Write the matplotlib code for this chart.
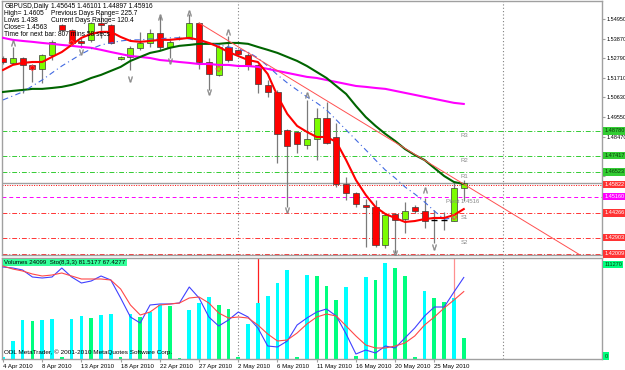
import matplotlib

matplotlib.use("Agg")
import matplotlib.pyplot as plt
import matplotlib.transforms as mtransforms
import numpy as np

# daily bars, 4 Apr 2010 .. 28 May 2010 (Sunday bars included)
OPEN = [1.5280, 1.5253, 1.5280, 1.5242, 1.5220, 1.5297, 1.5462, 1.5435, 1.5374, 1.5380,
        1.5473, 1.5462, 1.5275, 1.5286, 1.5336, 1.5363, 1.5418, 1.5341, 1.5391, 1.5396,
        1.5473, 1.5258, 1.5187, 1.5341, 1.5325, 1.5297, 1.5242, 1.5132, 1.5093, 1.4884,
        1.4873, 1.4801, 1.4834, 1.4950, 1.4845, 1.4586, 1.4537, 1.4470, 1.4459, 1.4250,
        1.4421, 1.4393, 1.4459, 1.4437, 1.4388, 1.4388, 1.4385, 1.45645]
HIGH = [1.5291, 1.5341, 1.5286, 1.5247, 1.5302, 1.5380, 1.5468, 1.5440, 1.5391, 1.5479,
        1.5528, 1.5468, 1.5291, 1.5347, 1.5424, 1.5440, 1.5512, 1.5380, 1.5402, 1.5523,
        1.5479, 1.5280, 1.5352, 1.5402, 1.5330, 1.5308, 1.5247, 1.5159, 1.5104, 1.4889,
        1.4878, 1.5049, 1.5005, 1.5038, 1.4922, 1.4625, 1.4542, 1.4504, 1.4498, 1.4426,
        1.4426, 1.4487, 1.4470, 1.4509, 1.4443, 1.4432, 1.4605, 1.46101]
LOW = [1.5247, 1.5247, 1.5088, 1.5148, 1.5143, 1.5269, 1.5429, 1.5352, 1.5336, 1.5369,
       1.5391, 1.5358, 1.5269, 1.5214, 1.5325, 1.5341, 1.5325, 1.5280, 1.5380, 1.5391,
       1.5220, 1.5104, 1.5181, 1.5258, 1.5297, 1.5214, 1.5088, 1.5066, 1.4702, 1.4459,
       1.4757, 1.4779, 1.4718, 1.4807, 1.4570, 1.4498, 1.4459, 1.4239, 1.4239, 1.4234,
       1.4206, 1.4316, 1.4426, 1.4344, 1.4261, 1.4333, 1.4380, 1.44897]
CLOSE = [1.5258, 1.5280, 1.5242, 1.5220, 1.5297, 1.5369, 1.5435, 1.5363, 1.5363, 1.5473,
         1.5462, 1.5363, 1.5286, 1.5336, 1.5363, 1.5418, 1.5341, 1.5369, 1.5391, 1.5473,
         1.5258, 1.5192, 1.5341, 1.5269, 1.5302, 1.5242, 1.5137, 1.5093, 1.4862, 1.4796,
         1.4807, 1.4834, 1.4950, 1.4812, 1.4586, 1.4537, 1.4476, 1.4459, 1.4250, 1.4415,
         1.4388, 1.4437, 1.4437, 1.4382, 1.4388, 1.4388, 1.4563, 1.45916]

MA_FAST = [1.5214, 1.5242, 1.5253, 1.5258, 1.5258, 1.5286, 1.5313, 1.5352, 1.5391, 1.5413,
           1.5424, 1.5424, 1.5396, 1.5374, 1.5369, 1.5374, 1.5380, 1.5380, 1.5385, 1.5391,
           1.5380, 1.5363, 1.5341, 1.5313, 1.5291, 1.5269, 1.5258, 1.5192, 1.5071, 1.4972,
           1.4906, 1.4873, 1.4845, 1.4845, 1.4818, 1.4718, 1.4608, 1.4526, 1.4459, 1.4421,
           1.4399, 1.4377, 1.4382, 1.4393, 1.4399, 1.4399, 1.4415, 1.4448]
MA_SLOW = [1.5093, 1.5099, 1.5104, 1.5110, 1.5110, 1.5115, 1.5121, 1.5132, 1.5148, 1.5170,
           1.5187, 1.5209, 1.5231, 1.5264, 1.5286, 1.5308, 1.5319, 1.5336, 1.5347, 1.5352,
           1.5358, 1.5358, 1.5358, 1.5363, 1.5363, 1.5358, 1.5341, 1.5325, 1.5308, 1.5286,
           1.5264, 1.5236, 1.5203, 1.5170, 1.5126, 1.5082, 1.5016, 1.4955, 1.4906, 1.4862,
           1.4823, 1.4779, 1.4746, 1.4718, 1.4674, 1.4630, 1.4597, 1.4586]
MA_LONG = [1.5391, 1.5380, 1.5374, 1.5369, 1.5363, 1.5358, 1.5352, 1.5347, 1.5341, 1.5336,
           1.5325, 1.5313, 1.5302, 1.5291, 1.5286, 1.5280, 1.5269, 1.5264, 1.5258, 1.5253,
           1.5247, 1.5247, 1.5242, 1.5242, 1.5236, 1.5236, 1.5231, 1.5220, 1.5209, 1.5198,
           1.5187, 1.5176, 1.5170, 1.5159, 1.5148, 1.5137, 1.5126, 1.5121, 1.5115, 1.5110,
           1.5099, 1.5088, 1.5077, 1.5066, 1.5055, 1.5044, 1.5033, 1.5027]
MA_SHIFTED = [1.5049, 1.5071, 1.5093, 1.5126, 1.5159, 1.5198, 1.5236, 1.5269, 1.5302, 1.5330,
              1.5352, 1.5363, 1.5374, 1.5380, 1.5380, 1.5385, 1.5385, 1.5391, 1.5391, 1.5385,
              1.5374, 1.5363, 1.5352, 1.5341, 1.5330, 1.5313, 1.5280, 1.5236, 1.5187, 1.5143,
              1.5104, 1.5066, 1.5033, 1.4994, 1.4939, 1.4884, 1.4829, 1.4774, 1.4718, 1.4663,
              1.4619, 1.4570, 1.4531, 1.4487, 1.4437, 1.4393, 1.4399]

TREND_BARS = [20, 61]
TREND_PRICES = [1.5473, 1.4125]

FRACTAL_UP_BARS = [1, 16, 19, 23, 31, 43]
FRACTAL_UP_PRICES = [1.5363, 1.5506, 1.5528, 1.5424, 1.5077, 1.4553]
FRACTAL_DOWN_BARS = [8, 13, 17, 21, 29, 40, 44]
FRACTAL_DOWN_PRICES = [1.5313, 1.5165, 1.5264, 1.5093, 1.4443, 1.4206, 1.4238]
SIGNAL_BARS = [3, 7, 22, 46]
SIGNAL_PRICES = [1.5225, 1.5363, 1.5220, 1.4404]

PIVOT_NAMES = ["R3", "R2", "R1", "Pivot 1.4516", "S1", "S2"]
PIVOT_PRICES = [1.48780, 1.47417, 1.46523, 1.45160, 1.44266, 1.42903]
S3_PRICE = 1.42009
BID_PRICE = 1.45916
MARK_PRICE = 1.45822

PRICE_TICKS = [1.54950, 1.53870, 1.52790, 1.51710, 1.50630, 1.49550,
               1.48470, 1.47390, 1.46310, 1.45230, 1.44150, 1.43070]

VOLUME = [2500, 20200, 43800, 42700, 43300, 45000, 2500, 45000, 48300, 46100,
          49500, 50600, 2000, 50600, 47200, 52800, 60700, 59600, 1500, 55100,
          62900, 69700, 60700, 56200, 2200, 39300, 62900, 70800, 85400, 100000,
          2800, 94400, 93300, 82100, 66300, 80900, 3000, 92200, 88800, 107900,
          102300, 93300, 2600, 76400, 68600, 64100, 68600, 24099]
VOLUME_MAX = 111270

STOCH_MAIN = [92, 91, 89, 82, 81, 82, 91, 82, 76, 78, 83, 79, 61, 42, 36, 54, 55, 55, 56, 72,
              61, 42, 33, 39, 47, 42, 31, 13, 12, 18, 34, 41, 47, 50, 43, 25, 5, 9, 6, 13,
              11, 21, 31, 43, 52, 52, 67, 81.5177]
STOCH_SIGNAL = [93, 90, 88, 85, 83, 84, 86, 83, 80, 80, 80, 79, 70, 54, 44, 47, 54, 55, 56, 61,
                62, 56, 46, 41, 42, 41, 34, 25, 18, 19, 26, 35, 42, 45, 43, 33, 23, 14, 11, 11,
                13, 16, 23, 34, 42, 51, 59, 67.4277]

SEPARATOR_BARS = [24, 51]
DATE_TICK_BARS = [0, 4, 8, 12, 16, 20, 24, 28, 32, 36, 40, 44]
DATE_TICK_LABELS = ["4 Apr 2010", "8 Apr 2010", "13 Apr 2010", "18 Apr 2010", "22 Apr 2010",
                    "27 Apr 2010", "2 May 2010", "6 May 2010", "11 May 2010", "16 May 2010",
                    "20 May 2010", "25 May 2010"]

HEADER_LINES = [
    ("GBPUSD,Daily", "1.45645 1.46101 1.44897 1.45916"),
    ("High= 1.4605", "Previous Days Range= 225.7"),
    ("Lows 1.438", "Current Days Range= 120.4"),
    ("Close= 1.4563", ""),
    ("Time for next bar: 807 mins 58 secs", ""),
]

W, H = 625, 370
FS = 4.3
GRID_GREY = "#a0a0a0"


def px_axes(fig, left, top, right, bottom):
    return fig.add_axes([left / W, 1 - bottom / H, (right - left) / W, (bottom - top) / H])


def price_label(ax, price, text, bg, fg):
    trans = mtransforms.blended_transform_factory(ax.transAxes, ax.transData)
    ax.text(1.004, price, text, transform=trans, fontsize=4.0, color=fg, va="center", ha="left",
            bbox=dict(boxstyle="square,pad=0.2", fc=bg, ec="none"), clip_on=False, zorder=20)


def style_frame(ax):
    for side in ax.spines.values():
        side.set_color(GRID_GREY)
        side.set_linewidth(1.0)
    ax.spines["right"].set_linestyle((0, (1, 1)))


def draw_main(ax, bars):
    o, h, l, c = (np.asarray(a) for a in (OPEN, HIGH, LOW, CLOSE))
    ax.vlines(bars, l, h, color="#7a7a7a", lw=0.9, zorder=3)
    up, down, flat = c > o, c < o, c == o
    ax.bar(bars[up], (c - o)[up], bottom=o[up], width=0.62, color="#7cfc00",
           edgecolor="#3a3a3a", lw=0.5, zorder=4)
    ax.bar(bars[down], (o - c)[down], bottom=c[down], width=0.62, color="#ff0000",
           edgecolor="#3a3a3a", lw=0.5, zorder=4)
    ax.hlines(o[flat], bars[flat] - 0.31, bars[flat] + 0.31, color="black", lw=1.0, zorder=4)

    ax.plot(bars, MA_LONG, color="#ff00ff", lw=1.5, zorder=5)
    ax.plot(bars, MA_SLOW, color="#006400", lw=1.5, zorder=5)
    ax.plot(bars[:len(MA_SHIFTED)], MA_SHIFTED, color="#4169e1", lw=0.8,
            ls=(0, (5, 3, 1, 3)), zorder=5)
    ax.plot(bars, MA_FAST, color="#ff0000", lw=1.5, zorder=6)
    ax.plot(TREND_BARS, TREND_PRICES, color="#ff5050", lw=0.7, zorder=5)

    ax.scatter(FRACTAL_UP_BARS, FRACTAL_UP_PRICES, marker=r"$\wedge$", s=16, color="#8a8a8a",
               lw=0.3, zorder=6)
    ax.scatter(FRACTAL_DOWN_BARS, FRACTAL_DOWN_PRICES, marker=r"$\vee$", s=16, color="#8a8a8a",
               lw=0.3, zorder=6)
    ax.scatter(SIGNAL_BARS, SIGNAL_PRICES, marker="D", s=8, facecolor="none",
               edgecolor="#ff4040", lw=0.6, zorder=6)

    # pivot levels
    level_colors = ["#33cc33", "#33cc33", "#33cc33", "#ff00ff", "#ff3333", "#ff3333"]
    for name, price, col in zip(PIVOT_NAMES, PIVOT_PRICES, level_colors):
        ls = (0, (4, 3)) if col == "#ff00ff" else (0, (5, 2, 1, 2))
        ax.axhline(price, color=col, lw=0.7, ls=ls, zorder=2)
        xpos = 45.2 if name.startswith("Pivot") else 46.7
        ax.text(xpos, price - 0.0012, name, fontsize=FS, color="#8a8a8a", va="top", ha="left", zorder=7)
    ax.axhline(S3_PRICE, color="#ff3333", lw=0.7, ls=(0, (5, 2, 1, 2)), zorder=2)
    ax.axhline(BID_PRICE, color="#a0a0a0", lw=1.0, zorder=2)
    ax.axhline(MARK_PRICE, color="#ff0000", lw=0.7, ls=(0, (1, 1.5)), zorder=2)

    for b in SEPARATOR_BARS:
        ax.axvline(b, color="#808080", lw=0.8, ls=(0, (1, 2)), zorder=1)

    # right-hand price labels for the horizontal lines
    tagged = [
        (PIVOT_PRICES[0], "#33cc33", "#0a3a0a"),
        (PIVOT_PRICES[1], "#33cc33", "#0a3a0a"),
        (PIVOT_PRICES[2], "#33cc33", "#0a3a0a"),
        (MARK_PRICE, "#ff3333", "white"),
        (PIVOT_PRICES[3], "#ff00ff", "white"),
        (PIVOT_PRICES[4], "#ff3333", "white"),
        (PIVOT_PRICES[5], "#ff3333", "white"),
        (S3_PRICE, "#ff3333", "white"),
    ]
    ax.yaxis.tick_right()
    ax.set_yticks(PRICE_TICKS)
    hidden = [any(abs(p - t[0]) < 0.0022 for t in tagged) for p in PRICE_TICKS]
    ax.set_yticklabels(["" if hid else f"{p:.5f}" for p, hid in zip(PRICE_TICKS, hidden)])
    ax.tick_params(axis="y", labelsize=4.0, length=2, pad=1, color=GRID_GREY)
    ax.tick_params(axis="x", bottom=False, labelbottom=False)
    for price, bg, fg in tagged:
        price_label(ax, price, f"{price:.5f}", bg, fg)

    for i, (left, right) in enumerate(HEADER_LINES):
        y = 0.978 - i * 0.0277
        ax.text(0.004, y, left, transform=ax.transAxes, fontsize=4.8, va="center", ha="left", zorder=8)
        if right:
            ax.text(0.082, y, right, transform=ax.transAxes, fontsize=4.8, va="center", ha="left", zorder=8)


def draw_sub(ax, bars):
    vol = np.asarray(VOLUME)
    prev = np.concatenate([[0], vol[:-1]])
    colors = np.where(vol > prev, "#00ffff", "#00ff7f")
    for b, col in zip([26, 46], ["#ff2020", "#ff9090"]):
        ax.axvline(b, color=col, lw=0.9, zorder=1)
    ax.bar(bars, vol, width=0.38, color=colors, zorder=2)
    ax.set_ylim(0, VOLUME_MAX * 1.02)
    for b in SEPARATOR_BARS:
        ax.axvline(b, color="#808080", lw=0.8, ls=(0, (1, 2)), zorder=1)

    st = ax.twinx()
    st.plot(bars, STOCH_MAIN, color="#4040ff", lw=0.8, zorder=3)
    st.plot(bars, STOCH_SIGNAL, color="#ff4848", lw=0.8, zorder=3)
    st.set_ylim(0, 101)
    st.axis("off")

    ax.yaxis.tick_right()
    ax.set_yticks([])
    ax.set_xticks(DATE_TICK_BARS)
    ax.set_xticklabels(DATE_TICK_LABELS, ha="left", fontsize=4.4)
    ax.tick_params(axis="x", length=2, pad=1.5, color=GRID_GREY)

    trans = mtransforms.blended_transform_factory(ax.transAxes, ax.transData)
    ax.text(1.004, VOLUME_MAX * 0.955, f"{VOLUME_MAX}", transform=trans, fontsize=4.0, va="center",
            ha="left", color="#0a3a0a", bbox=dict(boxstyle="square,pad=0.2", fc="#00ff7f", ec="none"),
            clip_on=False, zorder=20)
    ax.text(1.004, VOLUME_MAX * 0.03, "0", transform=trans, fontsize=4.0, va="center", ha="left",
            color="#0a3a0a", bbox=dict(boxstyle="square,pad=0.2", fc="#00ff7f", ec="none"),
            clip_on=False, zorder=20)
    ax.text(0.004, 0.955, f"Volumes {VOLUME[-1]}  Sto(8,3,3) {STOCH_MAIN[-1]:.4f} {STOCH_SIGNAL[-1]:.4f}",
            transform=ax.transAxes, fontsize=4.4, va="center", ha="left", zorder=20,
            bbox=dict(boxstyle="square,pad=0.2", fc="#33ff99", ec="none"))
    ax.text(0.004, 0.07, "ODL MetaTrader, \u00a9 2001-2010 MetaQuotes Software Corp.",
            transform=ax.transAxes, fontsize=4.6, va="center", ha="left", zorder=20)


def main() -> None:
    plt.rcParams["font.family"] = ["Liberation Sans", "DejaVu Sans"]
    fig = plt.figure(figsize=(W / 100, H / 100), dpi=100)
    fig.patch.set_facecolor("white")
    bars = np.arange(len(OPEN))

    ax = px_axes(fig, 2, 1, 602, 255)
    ax_sub = px_axes(fig, 2, 258, 602, 359)
    for a in (ax, ax_sub):
        a.set_xlim(-0.1, 61.1)
        style_frame(a)
    ax.set_ylim(1.4195, 1.5594)

    draw_main(ax, bars)
    draw_sub(ax_sub, bars)

    fig.savefig("out.png", dpi=100)
    plt.close(fig)


if __name__ == "__main__":
    main()
